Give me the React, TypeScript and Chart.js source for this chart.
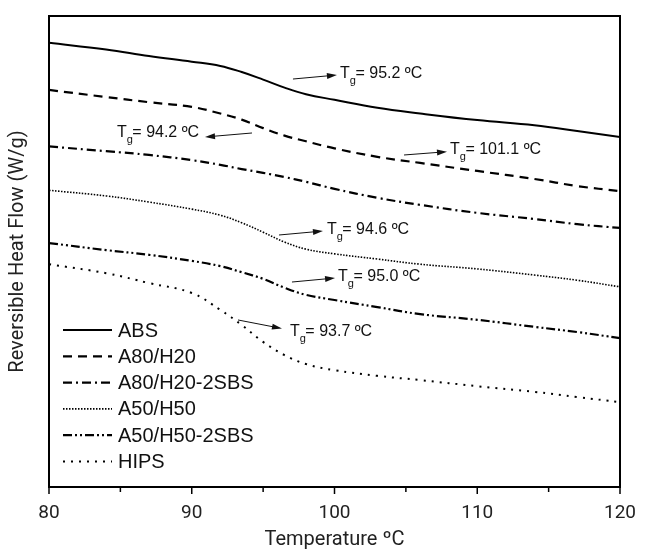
import React, { useEffect, useRef } from 'react';
import { Chart, registerables } from 'chart.js';

Chart.register(...registerables);

// ---- data ----
const temperature = [80, 84, 87, 90, 92, 93.5, 95, 96.5, 98, 100, 103, 106, 110, 114, 117, 120];
const absFlow = [94.3, 92.9, 91.5, 90.3, 89.4, 88.1, 86.5, 84.8, 83.4, 82.2, 80.5, 79.3, 77.9, 76.8, 75.6, 74.3];
const a80h20Flow = [84.3, 82.8, 81.7, 80.7, 79.3, 78.0, 76.2, 74.6, 73.4, 71.9, 70.1, 68.8, 67.1, 65.4, 63.9, 62.8];
const a80h20sbsFlow = [72.3, 71.3, 70.5, 69.4, 68.4, 67.5, 66.7, 65.8, 64.8, 63.3, 61.4, 59.9, 58.2, 56.9, 55.8, 55.0];
const a50h50Flow = [63.0, 61.8, 60.5, 59.0, 57.7, 56.1, 54.1, 52.0, 50.5, 49.5, 48.4, 47.3, 46.3, 45.0, 43.9, 42.5];
const a50h50sbsFlow = [51.8, 50.3, 49.3, 48.0, 46.9, 45.6, 44.2, 42.3, 40.8, 39.7, 38.2, 36.7, 35.5, 34.0, 32.9, 31.6];
const hipsFlow = [47.3, 45.4, 43.3, 41.2, 37.6, 34.4, 30.8, 28.0, 26.1, 24.8, 23.6, 22.7, 21.4, 20.2, 19.1, 18.0];

const seriesNames = ['ABS', 'A80/H20', 'A80/H20-2SBS', 'A50/H50', 'A50/H50-2SBS', 'HIPS'];
const seriesValues = [absFlow, a80h20Flow, a80h20sbsFlow, a50h50Flow, a50h50sbsFlow, hipsFlow];

const xMin = 80;
const xMax = 120;
const xMajorStep = 10;
const xMinorStep = 5;
const yMin = 0;
const yMax = 100;

// Tg annotations (data coordinates)
const tgValues = ['95.2', '94.2', '101.1', '94.6', '95.0', '93.7'];
const arrowFromT = [97.09, 94.22, 104.87, 96.11, 97.02, 93.24];
const arrowFromV = [86.62, 75.16, 70.49, 53.5, 43.52, 35.46];
const arrowToT = [100.17, 90.93, 107.88, 99.19, 100.04, 96.32];
const arrowToV = [87.47, 74.31, 71.19, 54.35, 44.37, 33.65];
const labelT = [100.39, 84.76, 108.09, 99.47, 100.25, 96.88];
const labelV = [87.69, 75.16, 71.55, 54.56, 44.59, 32.91];

// ---- styles ----
const dashes: number[][] = [[], [9, 6], [9, 4, 2, 4], [1.5, 1.5], [9, 3, 2, 3, 2, 3], [2, 6]];
const widths = [2, 2.2, 2.2, 1.6, 2.2, 2];

const decorPlugin = {
  id: 'decor',
  afterDatasetsDraw(chart: any) {
    const { ctx, chartArea, scales } = chart;
    const xs = scales.x;
    const ys = scales.y;
    ctx.save();
    // frame
    ctx.strokeStyle = '#000';
    ctx.lineWidth = 2;
    ctx.setLineDash([]);
    ctx.strokeRect(chartArea.left, chartArea.top, chartArea.right - chartArea.left, chartArea.bottom - chartArea.top);
    // x ticks
    ctx.lineWidth = 1.5;
    for (let v = xMin; v <= xMax + 1e-9; v += xMinorStep) {
      const px = xs.getPixelForValue(v);
      const major = Math.abs(v / xMajorStep - Math.round(v / xMajorStep)) < 1e-9;
      ctx.beginPath();
      ctx.moveTo(px, chartArea.bottom);
      ctx.lineTo(px, chartArea.bottom + (major ? 7 : 5));
      ctx.stroke();
    }
    // legend
    const lx0 = chartArea.left + 14;
    const lx1 = chartArea.left + 63;
    let ly = 330;
    ctx.font = '20px "Liberation Sans", Arial, sans-serif';
    ctx.textBaseline = 'middle';
    ctx.textAlign = 'left';
    for (let i = 0; i < seriesNames.length; i++) {
      ctx.strokeStyle = '#000';
      ctx.lineWidth = widths[i];
      ctx.setLineDash(dashes[i]);
      ctx.beginPath();
      ctx.moveTo(lx0, ly);
      ctx.lineTo(lx1, ly);
      ctx.stroke();
      ctx.setLineDash([]);
      ctx.fillStyle = '#111';
      ctx.fillText(seriesNames[i], lx1 + 6, ly + 1);
      ly += 26.3;
    }
    // annotations
    for (let i = 0; i < tgValues.length; i++) {
      const x0 = xs.getPixelForValue(arrowFromT[i]);
      const y0 = ys.getPixelForValue(arrowFromV[i]);
      const x1 = xs.getPixelForValue(arrowToT[i]);
      const y1 = ys.getPixelForValue(arrowToV[i]);
      const ang = Math.atan2(y1 - y0, x1 - x0);
      const hl = 10;
      const hw = 3;
      ctx.strokeStyle = '#111';
      ctx.fillStyle = '#111';
      ctx.lineWidth = 1;
      ctx.beginPath();
      ctx.moveTo(x0, y0);
      ctx.lineTo(x1 - Math.cos(ang) * hl * 0.8, y1 - Math.sin(ang) * hl * 0.8);
      ctx.stroke();
      ctx.beginPath();
      ctx.moveTo(x1, y1);
      ctx.lineTo(x1 - Math.cos(ang) * hl - Math.sin(ang) * hw, y1 - Math.sin(ang) * hl + Math.cos(ang) * hw);
      ctx.lineTo(x1 - Math.cos(ang) * hl + Math.sin(ang) * hw, y1 - Math.sin(ang) * hl - Math.cos(ang) * hw);
      ctx.closePath();
      ctx.fill();

      let tx = xs.getPixelForValue(labelT[i]);
      const ty = ys.getPixelForValue(labelV[i]);
      ctx.font = '16px "Liberation Sans", Arial, sans-serif';
      ctx.textBaseline = 'middle';
      ctx.fillText('T', tx, ty);
      tx += ctx.measureText('T').width;
      ctx.font = '11px "Liberation Sans", Arial, sans-serif';
      ctx.fillText('g', tx, ty + 7);
      tx += ctx.measureText('g').width - 0.5;
      ctx.font = '16px "Liberation Sans", Arial, sans-serif';
      ctx.fillText('= ' + tgValues[i] + ' \u00BAC', tx, ty);
    }
    ctx.restore();
  },
};

export default function App() {
  const ref = useRef<HTMLCanvasElement | null>(null);
  useEffect(() => {
    document.body.style.margin = '0';
    const canvas = ref.current;
    if (!canvas) return;
    const chart = new Chart(canvas, {
      type: 'line',
      data: {
        datasets: seriesNames.map((name, i) => ({
          label: name,
          data: temperature.map((t, j) => ({ x: t, y: seriesValues[i][j] })),
          borderColor: '#000',
          backgroundColor: '#000',
          borderWidth: widths[i],
          borderDash: dashes[i],
          pointRadius: 0,
          fill: false,
          tension: 0.4,
        })),
      },
      options: {
        responsive: false,
        animation: false,
        layout: { padding: { top: 16, right: 29, left: 0, bottom: 0 } },
        plugins: { legend: { display: false }, tooltip: { enabled: false } },
        scales: {
          x: {
            type: 'linear',
            min: xMin,
            max: xMax,
            grid: { display: false },
            border: { display: false },
            ticks: {
              stepSize: xMinorStep,
              autoSkip: false,
              maxRotation: 0,
              padding: 7,
              color: '#222',
              font: { family: 'Roboto', size: 19 },
              callback: (v: any) => (Number(v) % xMajorStep === 0 ? String(v) : ''),
            },
            title: {
              display: true,
              text: 'Temperature \u00BAC',
              color: '#222',
              font: { family: 'Roboto', size: 20 },
              padding: { top: 1, bottom: 1 },
            },
            afterFit: (s: any) => { s.height = 66; },
          },
          y: {
            type: 'linear',
            min: yMin,
            max: yMax,
            grid: { display: false },
            border: { display: false },
            ticks: { display: false },
            title: {
              display: true,
              text: 'Reversible Heat Flow (W/g)',
              color: '#222',
              font: { family: 'Roboto', size: 20 },
              padding: { top: 6, bottom: 0 },
            },
            afterFit: (s: any) => { s.width = 49; },
          },
        },
      },
      plugins: [decorPlugin],
    } as any);
    return () => chart.destroy();
  }, []);
  return (
    <div style={{ width: 649, height: 553 }}>
      <canvas ref={ref} width={649} height={553} />
    </div>
  );
}
